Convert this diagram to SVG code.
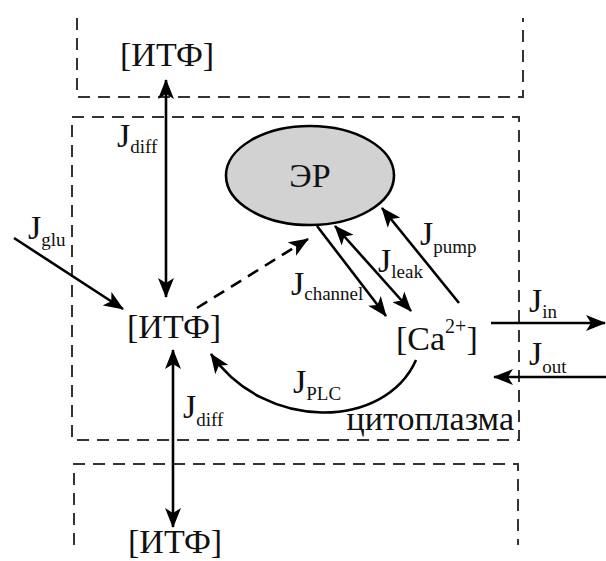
<svg xmlns="http://www.w3.org/2000/svg" width="606" height="561" viewBox="0 0 606 561">
<style>
.box{fill:none;stroke:#333;stroke-width:2;stroke-dasharray:12 8}
.ln{fill:none;stroke:#000;stroke-width:2.6}
.t{font-size:34px;fill:#111}
.s{font-size:19px}
</style>
<defs>
<marker id="ah" viewBox="0 0 20 16" refX="19" refY="8" markerWidth="20" markerHeight="16" markerUnits="userSpaceOnUse" orient="auto-start-reverse">
<path d="M0,0 L20,8 L0,16 L5,8 z" fill="#000"/>
</marker>
</defs>
<rect width="606" height="561" fill="#fff"/>
<g id="compartments">
<path class="box" d="M77,18 V97 H523 V18"/>
<rect class="box" x="72" y="117" width="447" height="323"/>
<path class="box" d="M74,545 V464 H518 V545"/>
</g>
<g id="connectors">
<line class="ln" x1="166" y1="80" x2="166" y2="297" marker-start="url(#ah)" marker-end="url(#ah)"/>
<line class="ln" x1="173" y1="350" x2="173" y2="527" marker-start="url(#ah)" marker-end="url(#ah)"/>
<line class="ln" x1="14" y1="238" x2="123" y2="309" marker-end="url(#ah)"/>
<line class="ln" x1="197" y1="308" x2="308" y2="239" stroke-dasharray="12 8" marker-end="url(#ah)"/>
<line class="ln" x1="317" y1="226" x2="386" y2="316" marker-end="url(#ah)"/>
<line class="ln" x1="335" y1="226" x2="411" y2="311" marker-start="url(#ah)" marker-end="url(#ah)"/>
<line class="ln" x1="459" y1="303" x2="382" y2="208" marker-end="url(#ah)"/>
<line class="ln" x1="491" y1="323" x2="605" y2="323" marker-end="url(#ah)"/>
<line class="ln" x1="606" y1="377" x2="494" y2="377" marker-end="url(#ah)"/>
<path class="ln" d="M416,360 C385,430 265,432 211,354" marker-end="url(#ah)"/>
</g>
<g font-family="Liberation Serif, Times New Roman, DejaVu Serif, serif">
<g id="er">
<ellipse cx="310" cy="175.5" rx="84" ry="49.5" fill="#d2d2d2" stroke="#000" stroke-width="2.6"/>
<text class="t" x="310" y="187" text-anchor="middle">ЭР</text>
</g>
<g id="itf-top"><text class="t" x="120" y="66">[ИТФ]</text></g>
<g id="itf-mid"><text class="t" x="127" y="338">[ИТФ]</text></g>
<g id="itf-bot"><text class="t" x="128" y="553">[ИТФ]</text></g>
<g id="ca"><text class="t" x="396" y="350">[Ca<tspan font-size="20" dy="-17">2+</tspan><tspan dy="17">]</tspan></text></g>
<g id="cyto"><text class="t" x="514" y="430" text-anchor="end">цитоплазма</text></g>
<g id="labels">
<text class="t" x="117" y="147">J<tspan class="s" dy="6">diff</tspan></text>
<text class="t" x="183" y="418">J<tspan class="s" dy="8">diff</tspan></text>
<text class="t" x="28" y="239">J<tspan class="s" dy="7">glu</tspan></text>
<text class="t" x="291" y="295">J<tspan class="s" dy="5">channel</tspan></text>
<text class="t" x="378" y="272">J<tspan class="s" dy="6">leak</tspan></text>
<text class="t" x="420" y="245">J<tspan class="s" dy="8">pump</tspan></text>
<text class="t" x="529" y="312">J<tspan class="s" dy="6">in</tspan></text>
<text class="t" x="529" y="365">J<tspan class="s" dy="8">out</tspan></text>
<text class="t" x="293" y="393">J<tspan class="s" dy="7">PLC</tspan></text>
</g>
</g>
</svg>
